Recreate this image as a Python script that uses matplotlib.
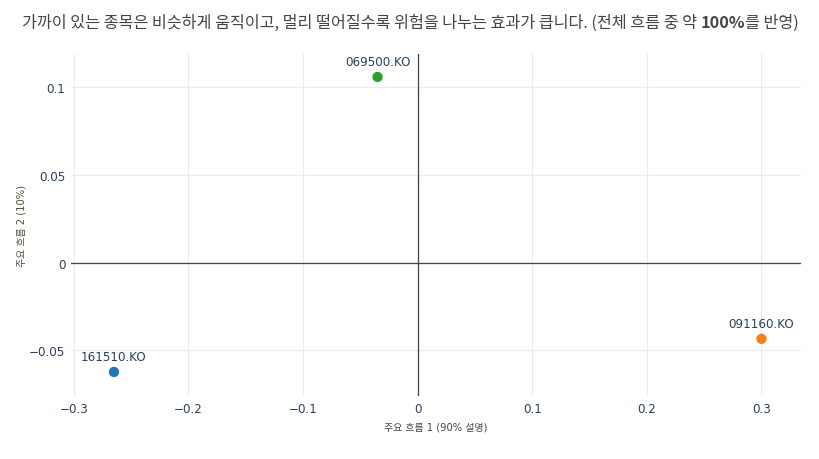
import matplotlib
matplotlib.use("Agg")
import matplotlib.pyplot as plt

plt.rcParams['font.family'] = ['DejaVu Sans', 'Noto Sans CJK KR']

tickers = ["161510.KO", "091160.KO", "069500.KO"]
pc1 = [-0.265, 0.300, -0.035]
pc2 = [-0.0624, -0.0435, 0.1058]
colors = ['#1f77b4', '#ff7f0e', '#2ca02c']
xticks = [-0.3, -0.2, -0.1, 0, 0.1, 0.2, 0.3]
yticks = [-0.05, 0, 0.05, 0.1]

txt = '#2a3f5f'
fig = plt.figure(figsize=(8.2, 4.6), dpi=100)
W, H = 820, 460
ax = fig.add_axes([71 / W, 1 - 397 / H, (801 - 71) / W, (397 - 55) / H])

ax.axhline(0, color='#444444', lw=0.9, zorder=1)
ax.axvline(0, color='#444444', lw=0.9, zorder=1)
ax.scatter(pc1, pc2, s=55, c=colors, zorder=3, linewidths=0)
for x, y, t in zip(pc1, pc2, tickers):
    ax.annotate(t, (x, y), xytext=(0, 6.5), textcoords='offset points',
                ha='center', va='bottom', fontsize=8.6, color=txt)

ax.set_xlim(-0.3025, 0.3345)
ax.set_ylim(-0.0761, 0.1189)
ax.set_xticks(xticks)
ax.set_xticklabels([("%g" % v).replace('-', '\u2212') for v in xticks])
ax.set_yticks(yticks)
ax.set_yticklabels([("%g" % v).replace('-', '\u2212') for v in yticks])
ax.tick_params(length=0, labelsize=8.6, labelcolor=txt, pad=4)
ax.grid(True, color='#ebebeb', lw=0.8, zorder=0)
ax.set_axisbelow(True)
for s in ax.spines.values():
    s.set_visible(False)

ax.set_xlabel("주요 흐름 1 (90% 설명)", fontsize=7.2, color='#444444', labelpad=5)
ax.set_ylabel("주요 흐름 2 (10%)", fontsize=7.2, color='#5a4a3a', labelpad=2)

# title with bold part
parts = [("가까이 있는 종목은 비슷하게 움직이고, 멀리 떨어질수록 위험을 나누는 효과가 큽니다. (전체 흐름 중 약 ", 'normal'),
         ("100%", 'bold'),
         ("를 반영)", 'normal')]
fig.canvas.draw()
r = fig.canvas.get_renderer()
objs = []
for s, w in parts:
    t = fig.text(0, 1 - 23 / H, s, fontsize=11.7, fontweight=w, color='#444444', va='center',
                 family=['Noto Sans CJK KR', 'DejaVu Sans'])
    objs.append(t)
widths = [o.get_window_extent(r).width for o in objs]
x0 = 410 - sum(widths) / 2
for o, wd in zip(objs, widths):
    o.set_x(x0 / W)
    x0 += wd

fig.savefig("out.png", dpi=100)
